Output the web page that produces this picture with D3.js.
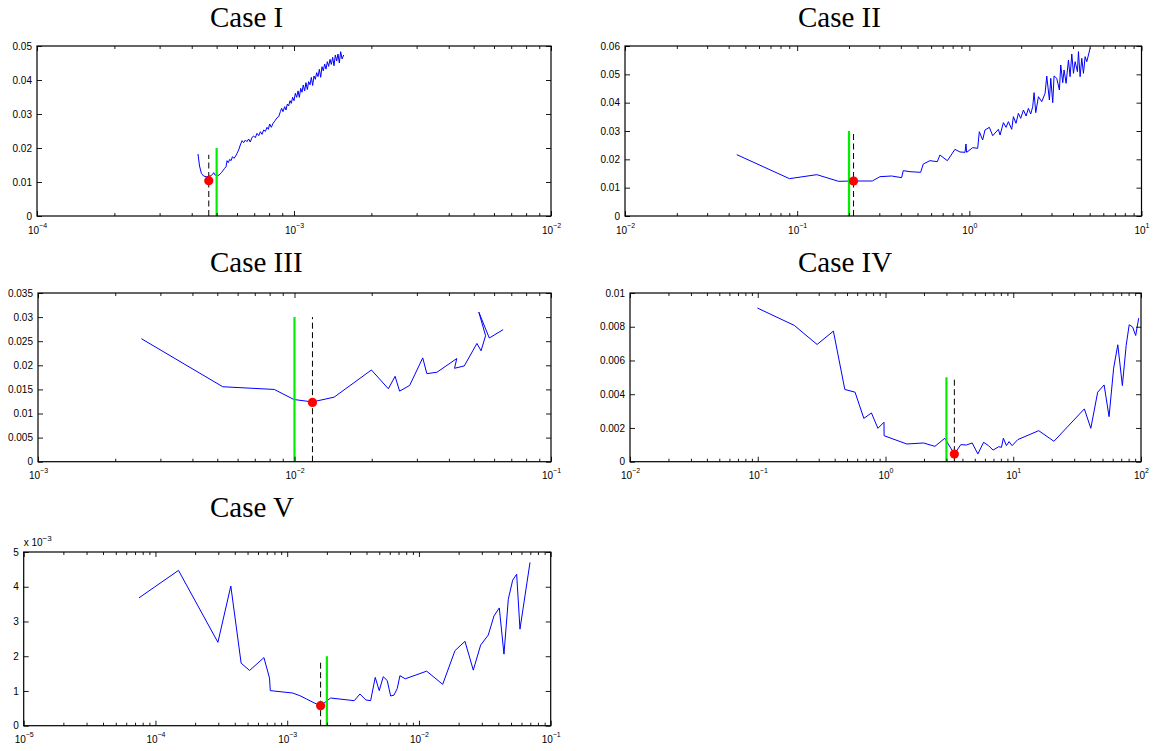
<!DOCTYPE html>
<html>
<head>
<meta charset="utf-8">
<script src="https://cdn.jsdelivr.net/npm/d3@7"></script>
<style>
  body { margin: 0; background: #fff; }
  svg { display: block; }
</style>
</head>
<body>
<svg id="fig" width="1174" height="751"></svg>
<script>
// ---- error curves, [x, error] ----
const caseI = [
  [4.23e-4,0.01824],[4.29e-4,0.01471],[4.36e-4,0.01255],[4.45e-4,0.01176],[4.56e-4,0.01157],
  [4.66e-4,0.01167],[4.74e-4,0.01186],[4.81e-4,0.01216],[4.87e-4,0.01275],[4.93e-4,0.01206],
  [5.02e-4,0.01176],[5.11e-4,0.01206],[5.22e-4,0.01275],[5.29e-4,0.01333],[5.37e-4,0.01402],
  [5.44e-4,0.01451],[5.49e-4,0.01627],[5.55e-4,0.01569],[5.62e-4,0.01667],[5.69e-4,0.01627],
  [5.76e-4,0.01745],[5.84e-4,0.01696],[5.93e-4,0.01765],[6.00e-4,0.01843],[6.09e-4,0.01941],
  [6.18e-4,0.02088],[6.28e-4,0.02216],[6.37e-4,0.02157],[6.47e-4,0.02235],[6.56e-4,0.02186],
  [6.66e-4,0.02265],[6.76e-4,0.02176],[6.87e-4,0.02314],[6.97e-4,0.02353],[7.07e-4,0.02304],
  [7.18e-4,0.02431],[7.29e-4,0.02363],[7.40e-4,0.02480],[7.51e-4,0.02402],[7.62e-4,0.02529],
  [7.74e-4,0.02490],[7.85e-4,0.02608],[7.95e-4,0.02549],[8.04e-4,0.02706],[8.16e-4,0.02608],
  [8.29e-4,0.02725],[8.44e-4,0.02804],[8.59e-4,0.02892],[8.72e-4,0.02922],[8.85e-4,0.03069],
  [8.95e-4,0.03167],[9.06e-4,0.03069],[9.20e-4,0.03216],[9.31e-4,0.03118],[9.42e-4,0.03294],
  [9.53e-4,0.03235],[9.65e-4,0.03392],[9.76e-4,0.03314],[9.88e-4,0.03490],[1.000e-3,0.03392],
  [1.012e-3,0.03608],[1.024e-3,0.03490],[1.037e-3,0.03680],[1.049e-3,0.03490],[1.062e-3,0.03755],
  [1.074e-3,0.03640],[1.087e-3,0.03853],[1.100e-3,0.03680],[1.113e-3,0.03922],[1.127e-3,0.03720],
  [1.140e-3,0.03951],[1.154e-3,0.03860],[1.168e-3,0.04078],[1.182e-3,0.03840],[1.196e-3,0.04118],
  [1.211e-3,0.04020],[1.225e-3,0.04216],[1.240e-3,0.04100],[1.255e-3,0.04314],[1.270e-3,0.04080],
  [1.285e-3,0.04392],[1.300e-3,0.04270],[1.316e-3,0.04471],[1.332e-3,0.04320],[1.348e-3,0.04539],
  [1.364e-3,0.04400],[1.381e-3,0.04608],[1.397e-3,0.04460],[1.414e-3,0.04667],[1.431e-3,0.04420],
  [1.448e-3,0.04735],[1.466e-3,0.04560],[1.483e-3,0.04765],[1.501e-3,0.04500],[1.519e-3,0.04833],
  [1.538e-3,0.04620],[1.561e-3,0.04735]
];

const caseII = [
  [0.0446,0.02165],[0.0902,0.01318],[0.1301,0.01459],[0.1739,0.01224],[0.2126,0.01235],
  [0.2730,0.01235],[0.3024,0.01388],[0.3535,0.01412],[0.4042,0.01353],[0.4133,0.01600],
  [0.4519,0.01565],[0.5212,0.01541],[0.5401,0.01835],[0.5905,0.01953],[0.6516,0.01918],
  [0.6752,0.02153],[0.7450,0.01953],[0.8254,0.02353],[0.8825,0.02259],[0.9437,0.02247],
  [0.9563,0.02541],[0.9649,0.02247],[1.0457,0.02412],[1.118,0.02388],[1.143,0.02976],
  [1.195,0.02682],[1.233,0.03035],[1.307,0.03130],[1.367,0.02835],[1.475,0.03059],
  [1.508,0.02859],[1.577,0.03294],[1.634,0.03130],[1.686,0.03330],[1.763,0.03059],
  [1.803,0.03506],[1.867,0.03271],[1.927,0.03624],[1.988,0.03447],[2.061,0.03741],
  [2.136,0.03529],[2.203,0.03800],[2.273,0.03600],[2.334,0.03859],[2.377,0.04353],
  [2.431,0.03647],[2.519,0.04212],[2.634,0.04035],[2.754,0.04330],[2.816,0.04941],
  [2.918,0.04094],[2.971,0.04859],[3.051,0.04000],[3.106,0.04941],[3.219,0.04859],
  [3.336,0.04447],[3.396,0.05330],[3.488,0.04706],[3.551,0.05153],[3.648,0.04682],
  [3.764,0.05506],[3.848,0.04918],[3.936,0.05718],[4.025,0.05035],[4.115,0.05447],
  [4.246,0.05094],[4.303,0.05800],[4.400,0.04918],[4.499,0.05565],[4.600,0.05035],
  [4.704,0.05624],[4.810,0.05447],[5.029,0.05918]
];

const caseIII = [
  [2.53e-3,0.02552],[5.25e-3,0.01555],[8.34e-3,0.01499],[9.95e-3,0.01290],[0.01175,0.01240],
  [0.01427,0.01339],[0.01995,0.01903],[0.02322,0.01513],[0.02467,0.01771],[0.02569,0.01464],
  [0.02812,0.01583],[0.03162,0.02154],[0.03281,0.01827],[0.03590,0.01855],[0.04292,0.02140],
  [0.04207,0.01938],[0.04591,0.01987],[0.05143,0.02454],[0.05337,0.02301],[0.05559,0.02615],
  [0.05232,0.03103],[0.05747,0.02566],[0.06507,0.02740]
];

const caseIV = [
  [0.0993,0.00911],[0.1931,0.00808],[0.2912,0.00695],[0.391,0.00774],[0.4803,0.00428],
  [0.5778,0.00412],[0.6765,0.00257],[0.776,0.00289],[0.8719,0.00198],[0.973,0.00234],
  [0.975,0.00154],[1.468,0.00105],[1.984,0.00111],[2.437,0.00091],[2.912,0.00139],
  [3.46,0.00045],[3.885,0.00101],[4.305,0.00099],[4.77,0.00111],[5.287,0.00046],
  [5.86,0.00115],[6.404,0.00095],[6.956,0.00069],[7.706,0.00089],[8.085,0.00085],
  [8.367,0.00139],[8.842,0.00095],[9.275,0.00119],[9.795,0.00095],[10.86,0.00131],
  [15.83,0.00184],[20.82,0.00121],[36.02,0.00313],[40.47,0.00198],[45.8,0.00412],
  [51.44,0.00455],[56.23,0.00267],[61.07,0.00554],[65.84,0.00693],[71.48,0.00451],
  [76.54,0.00689],[80.85,0.00812],[86.0,0.00798],[90.86,0.00748],[95.96,0.00851]
];

const caseV = [
  [7.5e-5,0.00368],[1.496e-4,0.00447],[2.979e-4,0.00240],[3.733e-4,0.00402],[4.47e-4,0.00180],
  [5.18e-4,0.00159],[6.66e-4,0.00196],[7.34e-4,0.00137],[7.44e-4,0.00101],[1.101e-3,0.00094],
  [1.248e-3,0.000864],[1.404e-3,0.000768],[1.623e-3,0.000645],[1.793e-3,0.000576],[2.136e-3,0.000797],
  [3.227e-3,0.00072],[3.565e-3,0.000912],[3.958e-3,0.00074],[4.297e-3,0.00072],[4.658e-3,0.00139],
  [4.995e-3,0.00101],[5.357e-3,0.00141],[5.744e-3,0.00130],[6.098e-3,0.000855],[6.459e-3,0.00088],
  [6.843e-3,0.00107],[7.172e-3,0.00144],[7.87e-3,0.00135],[1.144e-2,0.00157],[1.514e-2,0.00119],
  [1.877e-2,0.00216],[2.235e-2,0.00243],[2.585e-2,0.00160],[2.94e-2,0.00232],[3.359e-2,0.00261],
  [3.711e-2,0.00316],[4.072e-2,0.00339],[4.419e-2,0.00206],[4.766e-2,0.00364],[5.145e-2,0.00419],
  [5.517e-2,0.00436],[5.846e-2,0.00278],[6.965e-2,0.00470]
];

// ---- titles ----
const titles = ["Case I", "Case II", "Case III", "Case IV", "Case V"];

// ---- x decades (exponents of the log axis) ----
const decadesI   = [-4, -3, -2];
const decadesII  = [-2, -1, 0, 1];
const decadesIII = [-3, -2, -1];
const decadesIV  = [-2, -1, 0, 1, 2];
const decadesV   = [-5, -4, -3, -2, -1];

// ---- y ticks ----
const yTicksI   = [0, 0.01, 0.02, 0.03, 0.04, 0.05];
const yTicksII  = [0, 0.01, 0.02, 0.03, 0.04, 0.05, 0.06];
const yTicksIII = [0, 0.005, 0.01, 0.015, 0.02, 0.025, 0.03, 0.035];
const yTicksIV  = [0, 0.002, 0.004, 0.006, 0.008, 0.01];
const yTicksV   = [0, 0.001, 0.002, 0.003, 0.004, 0.005];
const yLabelsI   = ["0", "0.01", "0.02", "0.03", "0.04", "0.05"];
const yLabelsII  = ["0", "0.01", "0.02", "0.03", "0.04", "0.05", "0.06"];
const yLabelsIII = ["0", "0.005", "0.01", "0.015", "0.02", "0.025", "0.03", "0.035"];
const yLabelsIV  = ["0", "0.002", "0.004", "0.006", "0.008", "0.01"];
const yLabelsV   = ["0", "1", "2", "3", "4", "5"];

// ---- reference markers: green line [x, top], dashed line [x, top], minimum point [x, y] ----
const greenI   = [5.0e-4, 0.020],   dashI   = [4.66e-4, 0.018],   dotI   = [4.66e-4, 0.0104];
const greenII  = [0.200, 0.030],    dashII  = [0.2126, 0.030],    dotII  = [0.2126, 0.01235];
const greenIII = [0.0100, 0.030],   dashIII = [0.01175, 0.030],   dotIII = [0.01175, 0.0123];
const greenIV  = [3.0, 0.005],      dashIV  = [3.46, 0.005],      dotIV  = [3.46, 0.00045];
const greenV   = [2.0e-3, 0.002],   dashV   = [1.793e-3, 0.00184], dotV  = [1.793e-3, 0.000576];

// panel layout (plot box in page pixels)
const panels = [
  { title: titles[0], data: caseI,   dec: decadesI,   yt: yTicksI,   yl: yLabelsI,   green: greenI,   dash: dashI,   dot: dotI,
    box: [37, 551, 46, 216],      titlePos: [210, 26.5] },
  { title: titles[1], data: caseII,  dec: decadesII,  yt: yTicksII,  yl: yLabelsII,  green: greenII,  dash: dashII,  dot: dotII,
    box: [625, 1141.5, 46, 216],  titlePos: [798, 26.5] },
  { title: titles[2], data: caseIII, dec: decadesIII, yt: yTicksIII, yl: yLabelsIII, green: greenIII, dash: dashIII, dot: dotIII,
    box: [38, 551, 293, 461.7],   titlePos: [210, 272] },
  { title: titles[3], data: caseIV,  dec: decadesIV,  yt: yTicksIV,  yl: yLabelsIV,  green: greenIV,  dash: dashIV,  dot: dotIV,
    box: [630, 1141, 293, 461.7], titlePos: [798, 272] },
  { title: titles[4], data: caseV,   dec: decadesV,   yt: yTicksV,   yl: yLabelsV,   green: greenV,   dash: dashV,   dot: dotV,
    box: [23.7, 550.7, 552, 725.7], titlePos: [210, 517], multiplier: "−3" }
];

const svg = d3.select("#fig");
const tickFont = "'Liberation Sans', Arial, Helvetica, sans-serif";
const MAJOR = 5, MINOR = 3;

panels.forEach(drawPanel);

function supLabel(sel, exp) {
  const s = exp < 0 ? "−" + Math.abs(exp) : String(exp);
  sel.append("tspan").attr("font-size", 10).text("10");
  sel.append("tspan").attr("font-size", 7).attr("dy", -6).text(s);
}

function drawPanel(p) {
  const [L, R, T, B] = p.box;
  const lo = p.dec[0], hi = p.dec[p.dec.length - 1];
  const x = d3.scaleLog().domain([Math.pow(10, lo), Math.pow(10, hi)]).range([L, R]);
  const y = d3.scaleLinear().domain([0, p.yt[p.yt.length - 1]]).range([B, T]);
  const g = svg.append("g");

  const majors = p.dec.map(e => Math.pow(10, e));
  const minors = [];
  for (let e = lo; e < hi; e++) for (let m = 2; m <= 9; m++) minors.push(m * Math.pow(10, e));

  // error curve
  g.append("path")
    .datum(p.data)
    .attr("fill", "none")
    .attr("stroke", "#0000ff")
    .attr("stroke-width", 1)
    .attr("stroke-linejoin", "round")
    .attr("d", d3.line().x(d => x(d[0])).y(d => y(d[1])));

  // green reference line
  g.append("line")
    .attr("x1", x(p.green[0])).attr("x2", x(p.green[0]))
    .attr("y1", y(0)).attr("y2", y(p.green[1]))
    .attr("stroke", "#00ee00").attr("stroke-width", 2.2);

  // dashed line at the minimum
  g.append("line")
    .attr("x1", x(p.dash[0])).attr("x2", x(p.dash[0]))
    .attr("y1", y(0)).attr("y2", y(p.dash[1]))
    .attr("stroke", "#000").attr("stroke-width", 1)
    .attr("stroke-dasharray", "6,3.5");

  // minimum point
  g.append("circle")
    .attr("cx", x(p.dot[0])).attr("cy", y(p.dot[1]))
    .attr("r", 4.6).attr("fill", "#ff0000");

  const clean = a => a.select(".domain").remove();

  // bottom axis: major + minor ticks pointing inward
  const gb = g.append("g").attr("transform", `translate(0,${B})`);
  gb.append("g").call(d3.axisBottom(x).tickValues(minors).tickSize(-MINOR).tickFormat(() => "")).call(clean);
  const gbm = gb.append("g").call(d3.axisBottom(x).tickValues(majors).tickSize(-MAJOR).tickFormat(() => "")).call(clean);
  gbm.selectAll(".tick text").remove();
  gbm.selectAll(".tick").each(function (d, i) {
    const t = d3.select(this).append("text")
      .attr("y", 17.5).attr("text-anchor", "middle")
      .attr("fill", "#000").attr("font-family", tickFont);
    supLabel(t, p.dec[i]);
  });

  // top axis
  const gt = g.append("g").attr("transform", `translate(0,${T})`);
  gt.append("g").call(d3.axisTop(x).tickValues(minors).tickSize(-MINOR).tickFormat(() => "")).call(clean);
  gt.append("g").call(d3.axisTop(x).tickValues(majors).tickSize(-MAJOR).tickFormat(() => "")).call(clean);

  // left axis with labels
  const gl = g.append("g").attr("transform", `translate(${L},0)`)
    .call(d3.axisLeft(y).tickValues(p.yt).tickSize(-MAJOR).tickPadding(5)
      .tickFormat((d, i) => p.yl[i]))
    .call(clean);
  gl.selectAll("text").attr("font-size", 10).attr("font-family", tickFont).attr("fill", "#000");

  // right axis
  g.append("g").attr("transform", `translate(${R},0)`)
    .call(d3.axisRight(y).tickValues(p.yt).tickSize(-MAJOR).tickFormat(() => ""))
    .call(clean);

  g.selectAll(".tick line").attr("stroke", "#000").attr("stroke-width", 0.9);

  // plot box
  g.append("rect")
    .attr("x", L).attr("y", T).attr("width", R - L).attr("height", B - T)
    .attr("fill", "none").attr("stroke", "#000").attr("stroke-width", 1.2);

  // exponent multiplier above the y axis
  if (p.multiplier) {
    const m = g.append("text").attr("x", L).attr("y", T - 6)
      .attr("fill", "#000").attr("font-family", tickFont);
    m.append("tspan").attr("font-size", 10).text("x 10");
    m.append("tspan").attr("font-size", 8).attr("dy", -5).text(p.multiplier);
  }

  // title
  g.append("text")
    .attr("x", p.titlePos[0]).attr("y", p.titlePos[1])
    .attr("font-family", "'Liberation Serif', 'Times New Roman', serif")
    .attr("font-size", 29).attr("fill", "#000")
    .text(p.title);
}
</script>
</body>
</html>
